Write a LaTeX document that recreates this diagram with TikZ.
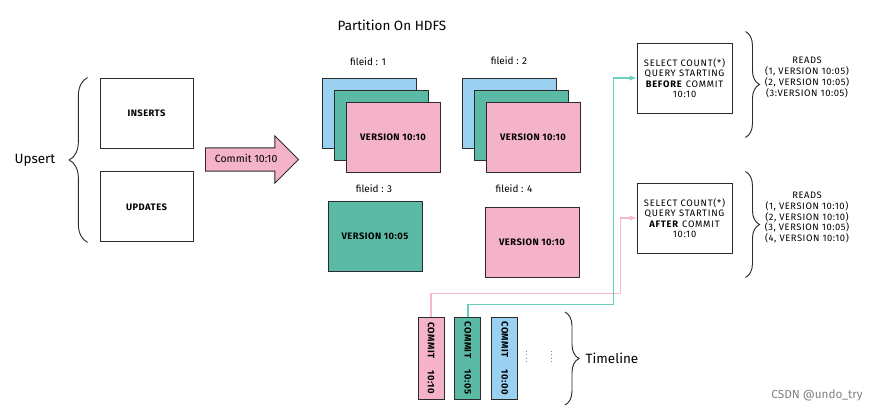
\documentclass[tikz,border=0pt]{standalone}
\usepackage{fontspec}
\usepackage{graphicx}
\setmainfont{Fira Sans}
\usetikzlibrary{arrows, positioning, shapes.arrows, decorations.pathreplacing}

\definecolor{pinkf}{HTML}{F4B3C8}
\definecolor{tealf}{HTML}{5BBAA6}
\definecolor{bluef}{HTML}{9AD0F0}
\definecolor{pinkl}{HTML}{F7B8CB}
\definecolor{teall}{HTML}{6ACFBC}
\definecolor{edge}{HTML}{2B2B2B}

\begin{document}
\begin{tikzpicture}[x=0.03cm, y=-0.03cm,
		opbox/.style={rectangle,draw=edge,line width=0.8pt,minimum width=2.79cm,minimum height=2.1cm,font=\fontsize{8}{9}\selectfont\bfseries\addfontfeatures{LetterSpace=5}},
		filebox/.style={rectangle,draw=edge,line width=0.8pt,minimum width=2.82cm,minimum height=2.1cm,font=\fontsize{8}{9}\selectfont\bfseries\addfontfeatures{LetterSpace=5}},
		querybox/.style={rectangle,draw=edge,line width=0.8pt,minimum width=2.85cm,minimum height=2.1cm,align=center,font=\fontsize{8}{9}\selectfont\addfontfeatures{LetterSpace=8}},
		commitbox/.style={rectangle,draw=edge,line width=0.8pt,minimum width=0.78cm,minimum height=2.46cm,inner sep=0pt,font=\fontsize{8}{9}\selectfont\bfseries\addfontfeatures{LetterSpace=5}},
		commitarrow/.style={single arrow,draw=edge,fill=pinkf,line width=0.8pt,minimum height=2.79cm,single arrow head extend=0.36cm,text height=6.5pt,text depth=1pt,inner ysep=5.8pt,font=\fontsize{9}{10}\selectfont},
		biglabel/.style={font=\fontsize{11.5}{13}\selectfont},
		idlabel/.style={font=\fontsize{8.5}{10}\selectfont},
		readlabel/.style={align=center,font=\fontsize{8}{9.2}\selectfont\addfontfeatures{LetterSpace=6}},
		bracket/.style={decorate,decoration={brace,amplitude=#1},line width=0.8pt,draw=edge},
		]
		\useasboundingbox (0,0) rectangle (885,411);

		% upsert side
		\node[biglabel](Ups) at (35,160){Upsert};
		\node[opbox](Ins) at (146.5,113){INSERTS};
		\node[opbox, below = 0.69cm of Ins](Upd){UPDATES};
		\draw[bracket=0.55cm] ([xshift=-0.36cm]Upd.south west) -- ([xshift=-0.36cm]Ins.north west);
		\node[commitarrow, anchor=tail](Arr) at (205,159.5){Commit 10:10};

		% partition on hdfs
		\node[biglabel](Part) at (392,25){Partition On HDFS};
		\node[idlabel](Id1) at (368,62){fileid : 1};
		\node[filebox, fill=bluef](F1a) at (369,113){};
		\node[filebox, fill=tealf](F1b) at ([shift={(12,12)}]F1a){};
		\node[filebox, fill=pinkf](F1c) at ([shift={(12,12)}]F1b){VERSION 10:10};

		\node[idlabel](Id2) at (509,61){fileid : 2};
		\node[filebox, fill=bluef](F2a) at (509,113){};
		\node[filebox, fill=tealf](F2b) at ([shift={(12,12)}]F2a){};
		\node[filebox, fill=pinkf](F2c) at ([shift={(12,12)}]F2b){VERSION 10:10};

		\node[idlabel](Id3) at (374,189){fileid : 3};
		\node[filebox, fill=tealf](F3) at (375,236){VERSION 10:05};
		\node[idlabel](Id4) at (514,189){fileid : 4};
		\node[filebox, fill=pinkf](F4) at (532,242){VERSION 10:10};

		% queries
		\node[querybox](Q1) at (684.5,78){SELECT COUNT(*)\\QUERY STARTING\\\textbf{BEFORE} COMMIT\\10:10};
		\node[querybox](Q2) at (684.5,218){SELECT COUNT(*)\\QUERY STARTING\\\textbf{AFTER} COMMIT\\10:10};
		\draw[bracket=0.42cm] ([shift={(13,-11)}]Q1.north east) -- ([shift={(13,24)}]Q1.south east);
		\draw[bracket=0.42cm] ([shift={(13,-11)}]Q2.north east) -- ([shift={(13,24)}]Q2.south east);
		\node[readlabel](R1) at (807,77.5){READS\\(1, VERSION 10:05)\\(2, VERSION 10:05)\\(3:VERSION 10:05)};
		\node[readlabel](R2) at (807,217.5){READS\\(1, VERSION 10:10)\\(2, VERSION 10:10)\\(3, VERSION 10:05)\\(4, VERSION 10:10)};

		% timeline
		\node[commitbox, fill=pinkf](C1) at (431,358){\rotatebox{-90}{COMMIT\hspace{10pt}10:10}};
		\node[commitbox, fill=tealf, right = 0.3cm of C1](C2){\rotatebox{-90}{COMMIT\hspace{10pt}10:05}};
		\node[commitbox, fill=bluef, right = 0.3cm of C2](C3){\rotatebox{-90}{COMMIT\hspace{10pt}10:00}};
		\draw[gray, dotted, line width=0.8pt] (526,351) -- (526,364);
		\draw[gray, dotted, line width=0.8pt] (551,351) -- (551,364);
		\draw[bracket=0.42cm] (565,312) -- (565,405);
		\node[biglabel](Tl) at (612,358){Timeline};

		\draw[pinkl, line width=1pt, -latex] (C1.north) -- ++(0,-23) -| ([xshift=-0.48cm]Q2.west) -- (Q2.west);
		\draw[teall, line width=1pt, -latex] (C2.north) -- ++(0,-12) -| ([xshift=-0.69cm]Q1.west) -- (Q1.west);

		\node[text=gray, font=\fontsize{10}{12}\selectfont](Wm) at (817,395){CSDN @undo\_try};
	\end{tikzpicture}
\end{document}
